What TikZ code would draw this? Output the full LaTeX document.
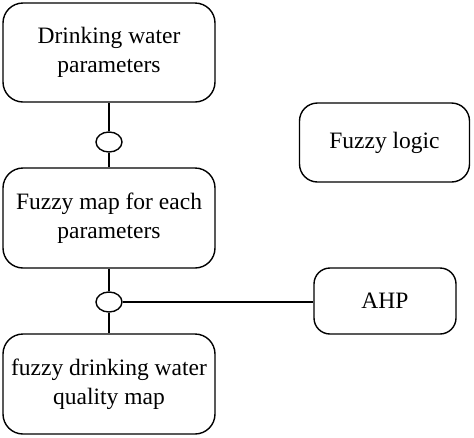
\documentclass[tikz,border=0pt]{standalone}
\usepackage{fontspec}
\setmainfont{Liberation Serif}
\usetikzlibrary{shapes.geometric}
\begin{document}
\begin{tikzpicture}[x=1pt,y=-1pt,
  box/.style={draw,line width=1.4pt,rounded corners=20pt,align=center,font=\fontsize{23.5}{29}\selectfont,inner sep=0pt},
  joint/.style={draw,line width=1.4pt,ellipse,minimum width=26pt,minimum height=20pt,inner sep=0pt,fill=white},
  link/.style={line width=1.4pt}]
\useasboundingbox (0,0) rectangle (474,437);
\node[box,minimum width=212pt,minimum height=99pt] (dwp) at (109,52.5) {Drinking water\\parameters};
\node[box,minimum width=212pt,minimum height=100pt] (fmp) at (109,218) {Fuzzy map for each\\parameters};
\node[box,minimum width=212pt,minimum height=100pt] (fdq) at (109,384) {fuzzy drinking water\\quality map};
\node[box,minimum width=142pt,minimum height=66pt,rounded corners=16pt] (ahp) at (385,301) {AHP};
\node[box,minimum width=170pt,minimum height=79pt,rounded corners=18pt] (fl) at (384.5,142.5) {Fuzzy logic};
\node[joint] (j1) at (109,142) {};
\node[joint] (j2) at (109,302) {};
\draw[link] (dwp.south) -- (j1.north);
\draw[link] (j1.south) -- (fmp.north);
\draw[link] (fmp.south) -- (j2.north);
\draw[link] (j2.south) -- (fdq.north);
\draw[link] (j2.east) -- (ahp.west |- j2.east);
\end{tikzpicture}
\end{document}
